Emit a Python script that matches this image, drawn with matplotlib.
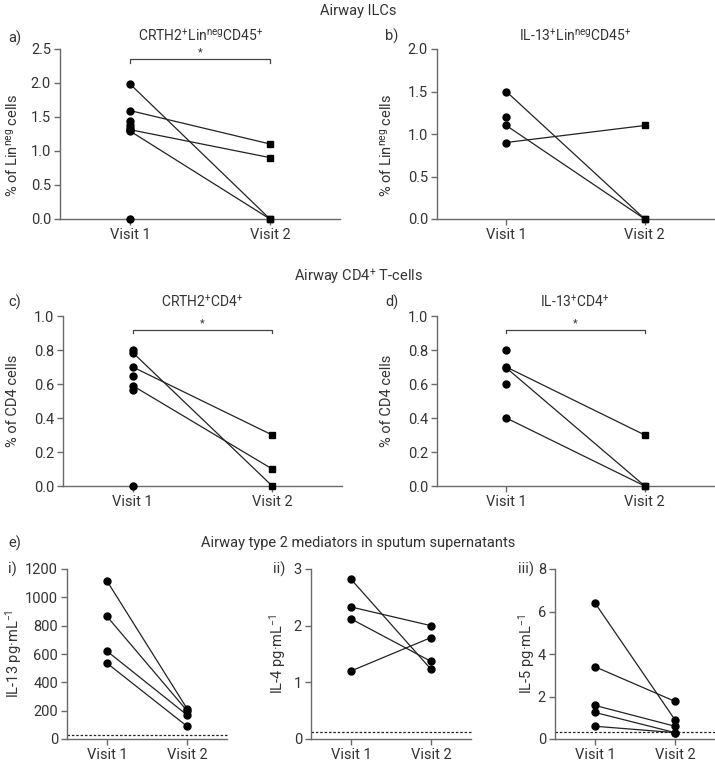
import numpy as np
import matplotlib
matplotlib.use("Agg")
import matplotlib.pyplot as plt

plt.rcParams['font.family'] = ['Roboto', 'DejaVu Sans']
plt.rcParams['mathtext.fontset'] = 'custom'
plt.rcParams['mathtext.rm'] = 'Roboto'
plt.rcParams['mathtext.default'] = 'regular'

TXT = '#333333'
AX = '#6a6a6a'
W, H = 715, 763

# data: each pair = (visit 1, visit 2); unpaired visit-1 points separately
visits = ["Visit 1", "Visit 2"]

a_pairs = [(1.98, 0.0), (1.59, 1.10), (1.31, 0.90), (1.29, 0.0)]
a_single = [1.44, 1.38, 1.34, 0.0]

b_pairs = [(1.50, 0.0), (1.10, 0.0), (0.90, 1.10)]
b_single = [1.20]

c_pairs = [(0.785, 0.0), (0.70, 0.30), (0.59, 0.10)]
c_single = [0.80, 0.65, 0.565, 0.0]

d_pairs = [(0.70, 0.30), (0.695, 0.0), (0.40, 0.0)]
d_single = [0.80, 0.60]

e1_pairs = [(1115, 215), (865, 200), (620, 170), (535, 90)]
e2_pairs = [(2.82, 1.23), (2.33, 2.00), (2.12, 1.37), (1.20, 1.79)]
e3_pairs = [(6.40, 0.90), (3.40, 1.77), (1.58, 0.60), (1.25, 0.30), (0.60, 0.30)]

e_lod = [30, 0.13, 0.35]


def box(l, t, r, b):
    return [l / W, 1 - b / H, (r - l) / W, (b - t) / H]


def txt(fig, x, y, s, **kw):
    kw.setdefault('color', TXT)
    kw.setdefault('fontsize', 9.5)
    fig.text(x / W, 1 - y / H, s, **kw)


def style(ax, ylim, yticks, fmt):
    ax.set_xlim(0.5, 2.5)
    ax.set_ylim(*ylim)
    ax.set_yticks(yticks)
    ax.set_yticklabels([fmt.format(v) for v in yticks])
    ax.set_xticks([1, 2])
    ax.set_xticklabels(visits)
    for s in ['top', 'right']:
        ax.spines[s].set_visible(False)
    for s in ['left', 'bottom']:
        ax.spines[s].set_color(AX)
        ax.spines[s].set_linewidth(1.0)
    ax.tick_params(colors=AX, labelcolor=TXT, labelsize=10.5, length=4, width=1.0, pad=2.5)
    for sp in ax.spines.values():
        sp.set_clip_on(False)


def pairs(ax, data, single, v2marker):
    for y1, y2 in data:
        ax.plot([1, 2], [y1, y2], color='#222222', lw=0.9, zorder=2, clip_on=False)
        ax.plot(1, y1, 'o', color='black', ms=5, zorder=3, clip_on=False)
        ax.plot(2, y2, v2marker, color='black', ms=5, zorder=3, clip_on=False)
    for y in single:
        ax.plot(1, y, 'o', color='black', ms=5, zorder=3, clip_on=False)


def bracket(ax, y, h):
    ax.plot([1, 1, 2, 2], [y - h, y, y, y - h], color='#444444', lw=0.9, clip_on=False)
    ax.text(1.5, y + h * 0.6, '*', ha='center', va='bottom', fontsize=8, color=TXT)


fig = plt.figure(figsize=(W / 100, H / 100), dpi=100)

# section titles
txt(fig, 358, 11, 'Airway ILCs', ha='center', va='center', fontsize=10.5)
txt(fig, 358, 276, 'Airway CD4$^{+}$ T-cells', ha='center', va='center', fontsize=10.5)
txt(fig, 358, 543, 'Airway type 2 mediators in sputum supernatants', ha='center', va='center', fontsize=10.5)

# a)
ax = fig.add_axes(box(60, 48.5, 340, 219))
pairs(ax, a_pairs, a_single, 's')
style(ax, (0, 2.5), [0, 0.5, 1.0, 1.5, 2.0, 2.5], '{:.1f}')
bracket(ax, 2.34, 0.05)
txt(fig, 8, 38, 'a)', ha='left', va='center', fontsize=10.5)
txt(fig, 201, 36, 'CRTH2$^{+}$Lin$^{neg}$CD45$^{+}$', ha='center', va='center', fontsize=10)
txt(fig, 13, 145, '% of Lin$^{neg}$ cells', ha='center', va='center', rotation=90, fontsize=10.5)

# b)
ax = fig.add_axes(box(437, 49, 714, 219))
pairs(ax, b_pairs, b_single, 's')
style(ax, (0, 2.0), [0, 0.5, 1.0, 1.5, 2.0], '{:.1f}')
txt(fig, 385, 36, 'b)', ha='left', va='center', fontsize=10.5)
txt(fig, 575, 36, 'IL-13$^{+}$Lin$^{neg}$CD45$^{+}$', ha='center', va='center', fontsize=10)
txt(fig, 387, 145, '% of Lin$^{neg}$ cells', ha='center', va='center', rotation=90, fontsize=10.5)

# c)
ax = fig.add_axes(box(63, 316, 342, 486))
pairs(ax, c_pairs, c_single, 's')
style(ax, (0, 1.0), [0, 0.2, 0.4, 0.6, 0.8, 1.0], '{:.1f}')
bracket(ax, 0.918, 0.02)
txt(fig, 8, 302, 'c)', ha='left', va='center', fontsize=10.5)
txt(fig, 202, 302, 'CRTH2$^{+}$CD4$^{+}$', ha='center', va='center', fontsize=10)
txt(fig, 13, 401, '% of CD4 cells', ha='center', va='center', rotation=90, fontsize=10.5)

# d)
ax = fig.add_axes(box(437, 316, 714, 486))
pairs(ax, d_pairs, d_single, 's')
style(ax, (0, 1.0), [0, 0.2, 0.4, 0.6, 0.8, 1.0], '{:.1f}')
bracket(ax, 0.918, 0.02)
txt(fig, 385, 302, 'd)', ha='left', va='center', fontsize=10.5)
txt(fig, 575, 302, 'IL-13$^{+}$CD4$^{+}$', ha='center', va='center', fontsize=10)
txt(fig, 387, 401, '% of CD4 cells', ha='center', va='center', rotation=90, fontsize=10.5)

# e)
txt(fig, 8, 543, 'e)', ha='left', va='center', fontsize=10.5)
e_boxes = [(67, 227), (311, 471), (555, 715)]
e_data = [e1_pairs, e2_pairs, e3_pairs]
e_ylim = [1200, 3, 8]
e_ticks = [[0, 200, 400, 600, 800, 1000, 1200], [0, 1, 2, 3], [0, 2, 4, 6, 8]]
e_tags = ['i)', 'ii)', 'iii)']
e_tagx = [8, 273, 518]
e_labx = [14, 278, 527]
e_labels = ['IL-13 pg·mL$^{-1}$', 'IL-4 pg·mL$^{-1}$', 'IL-5 pg·mL$^{-1}$']
for i in range(3):
    l, r = e_boxes[i]
    ax = fig.add_axes(box(l, 569, r, 739))
    pairs(ax, e_data[i], [], 'o')
    style(ax, (0, e_ylim[i]), e_ticks[i], '{:d}')
    ax.axhline(e_lod[i], color='#222222', lw=0.9, ls=(0, (2, 1.5)), zorder=1, clip_on=False)
    txt(fig, e_tagx[i], 569, e_tags[i], ha='left', va='center', fontsize=10.5)
    txt(fig, e_labx[i], 654, e_labels[i], ha='center', va='center', rotation=90, fontsize=10.5)

fig.savefig('out.png', dpi=100)
